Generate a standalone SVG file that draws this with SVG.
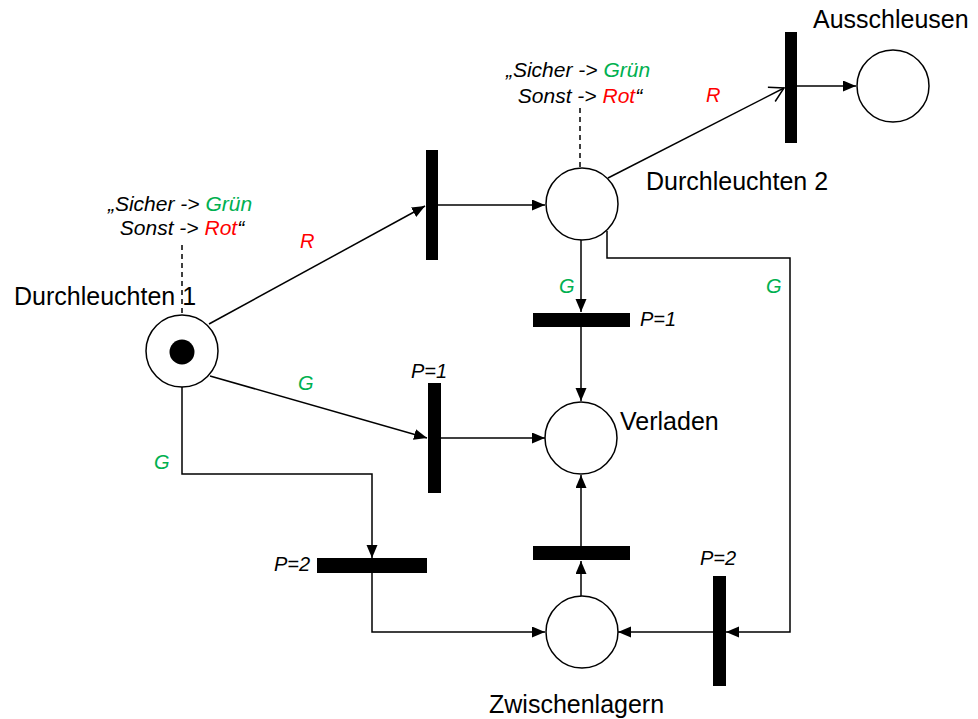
<svg xmlns="http://www.w3.org/2000/svg" width="978" height="719" viewBox="0 0 978 719">
<style>
.place{fill:#fff;stroke:#000;stroke-width:1.5}
.bar{fill:#000}
.arc{fill:none;stroke:#000;stroke-width:1.5}
.dash{fill:none;stroke:#000;stroke-width:1.5;stroke-dasharray:5 4}
.lbl{font-family:"Liberation Sans",Arial,sans-serif;font-size:25px;fill:#000}
.ann{font-family:"Liberation Sans",Arial,sans-serif;font-size:21px;font-style:italic;fill:#000}
.sm{font-family:"Liberation Sans",Arial,sans-serif;font-size:20px;font-style:italic;fill:#000}
.g{fill:#00B050}
.r{fill:#FF0000}
</style>
<defs>
<marker id="ah" markerUnits="userSpaceOnUse" markerWidth="14" markerHeight="12" refX="13" refY="5.5" orient="auto">
<path d="M0,0 L13,5.5 L0,11 z" fill="#000"/>
</marker>
<marker id="oh" markerUnits="userSpaceOnUse" markerWidth="18" markerHeight="20" refX="15" refY="9" orient="auto">
<path d="M1,1 L15,9 L1,17" fill="none" stroke="#000" stroke-width="1.5"/>
</marker>
</defs>

<g id="connectors">
<line class="arc" x1="209" y1="324" x2="425" y2="206" marker-end="url(#ah)"/>
<line class="arc" x1="438" y1="205" x2="545" y2="205" marker-end="url(#ah)"/>
<line class="arc" x1="608" y1="178" x2="784" y2="88" marker-end="url(#oh)"/>
<line class="arc" x1="797" y1="86" x2="856" y2="86" marker-end="url(#ah)"/>
<line class="arc" x1="581" y1="240" x2="581" y2="312" marker-end="url(#ah)"/>
<line class="arc" x1="581" y1="327" x2="581" y2="401" marker-end="url(#ah)"/>
<polyline class="arc" points="607,231 607,258 790,258 790,632 726,632" marker-end="url(#ah)"/>
<line class="arc" x1="713" y1="632" x2="618" y2="632" marker-end="url(#ah)"/>
<line class="arc" x1="581" y1="596" x2="581" y2="561" marker-end="url(#ah)"/>
<line class="arc" x1="581" y1="546" x2="581" y2="475" marker-end="url(#ah)"/>
<line class="arc" x1="210" y1="376" x2="427" y2="438" marker-end="url(#ah)"/>
<line class="arc" x1="441" y1="438" x2="545" y2="438" marker-end="url(#ah)"/>
<polyline class="arc" points="182,387 182,474 372,474 372,558" marker-end="url(#ah)"/>
<polyline class="arc" points="372,573 372,632 545,632" marker-end="url(#ah)"/>
<line class="dash" x1="182" y1="245" x2="182" y2="315"/>
<line class="dash" x1="580" y1="108" x2="580" y2="168"/>
</g>

<g id="p_durchleuchten1">
<circle class="place" cx="182" cy="351" r="36"/>
<circle cx="182" cy="352" r="12.5" fill="#000"/>
<text class="lbl" x="14" y="305">Durchleuchten 1</text>
</g>
<g id="p_durchleuchten2">
<circle class="place" cx="582" cy="204" r="36"/>
<text class="lbl" x="646" y="190">Durchleuchten 2</text>
</g>
<g id="p_ausschleusen">
<circle class="place" cx="893" cy="86" r="36"/>
<text class="lbl" x="813" y="28">Ausschleusen</text>
</g>
<g id="p_verladen">
<circle class="place" cx="581" cy="438" r="36"/>
<text class="lbl" x="620" y="430">Verladen</text>
</g>
<g id="p_zwischenlagern">
<circle class="place" cx="582" cy="632" r="36"/>
<text class="lbl" x="489" y="713">Zwischenlagern</text>
</g>

<g id="t_r1"><rect class="bar" x="426" y="150" width="12" height="110"/></g>
<g id="t_aus"><rect class="bar" x="785" y="32" width="12" height="111"/></g>
<g id="t_g1"><rect class="bar" x="428" y="383" width="13" height="110"/>
<text class="sm" x="411" y="378">P=1</text></g>
<g id="t_g2"><rect class="bar" x="533" y="313" width="97" height="14"/>
<text class="sm" x="640" y="326">P=1</text></g>
<g id="t_up"><rect class="bar" x="533" y="546" width="97" height="14"/></g>
<g id="t_p2left"><rect class="bar" x="317" y="558" width="110" height="15"/>
<text class="sm" x="274" y="571">P=2</text></g>
<g id="t_p2right"><rect class="bar" x="713" y="576" width="13" height="110"/>
<text class="sm" x="700" y="565">P=2</text></g>

<g id="labels">
<text class="sm r" x="300" y="248">R</text>
<text class="sm r" x="706" y="102">R</text>
<text class="sm g" x="559" y="293">G</text>
<text class="sm g" x="766" y="293">G</text>
<text class="sm g" x="298" y="390">G</text>
<text class="sm g" x="154" y="469">G</text>
</g>

<g id="annotation_left">
<text class="ann" x="180" y="211" text-anchor="middle">„Sicher -&gt; <tspan class="g">Grün</tspan></text>
<text class="ann" x="182" y="235" text-anchor="middle">Sonst -&gt; <tspan class="r">Rot</tspan>“</text>
</g>
<g id="annotation_top">
<text class="ann" x="578" y="77" text-anchor="middle">„Sicher -&gt; <tspan class="g">Grün</tspan></text>
<text class="ann" x="580" y="103" text-anchor="middle">Sonst -&gt; <tspan class="r">Rot</tspan>“</text>
</g>
</svg>
